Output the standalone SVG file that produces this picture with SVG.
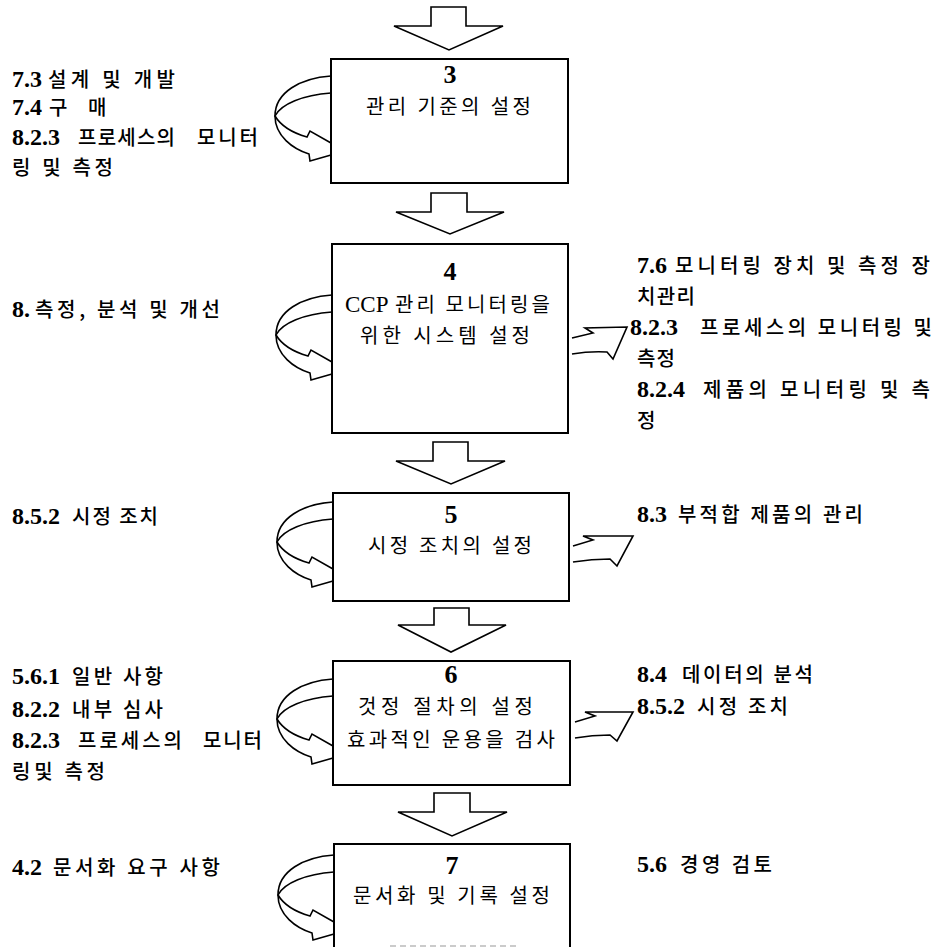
<svg xmlns="http://www.w3.org/2000/svg" width="937" height="949" viewBox="0 0 937 949">
<style>
text { font-family: "Noto Sans CJK KR", sans-serif; fill: #000; }
.k { font-family: "Noto Sans CJK KR", sans-serif; font-size: 20px; font-weight: 500; }
.kb { font-family: "Noto Sans CJK KR", sans-serif; font-size: 20px; font-weight: 400; }
.n { font-family: "Liberation Serif", serif; font-weight: bold; font-size: 24px; }
.bn { font-family: "Liberation Serif", serif; font-weight: bold; font-size: 26px; text-anchor: middle; }
.lat { font-family: "Liberation Serif", serif; font-size: 23px; }
.box { fill: #fff; stroke: #000; stroke-width: 2; }
.line { fill: none; stroke: #000; stroke-width: 1.6; stroke-linejoin: miter; }
.blk { fill: #fff; stroke: #000; stroke-width: 1.6; }
</style>
<rect width="937" height="949" fill="#fff"/>

<g id="connectors">
  <path class="blk" d="M431,7 L466,7 L466,26 L503,26 L449,50 L394,26 L431,26 Z"/>
  <path class="blk" d="M431,193 L467,193 L467,212 L504,212 L450,234 L396,212 L431,212 Z"/>
  <path class="blk" d="M433,442 L468,442 L468,461 L505,461 L451,484 L396,461 L433,461 Z"/>
  <path class="blk" d="M434,608 L469,608 L469,625 L506,625 L451,652 L398,625 L434,625 Z"/>
  <path class="blk" d="M434,793 L470,793 L470,812 L507,812 L452,836 L398,812 L434,812 Z"/>

  <path class="line" d="M331,76 C301,78 275,92 275,116 C275,136 293,149 309,154 L310,161 L331,155"/>
  <path class="line" d="M331,93 C303,95 281,104 275,116 C281,126 293,133 307,137 L310,131 L331,143"/>

  <path class="line" d="M332,295 C302,297 276,311 276,335 C276,355 294,368 310,373 L311,380 L332,374"/>
  <path class="line" d="M332,312 C304,314 282,323 276,335 C282,345 294,352 308,356 L311,350 L332,362"/>

  <path class="line" d="M333,502 C303,504 277,518 277,542 C277,562 295,575 311,580 L312,587 L333,581"/>
  <path class="line" d="M333,519 C305,521 283,530 277,542 C283,552 295,559 309,563 L312,557 L333,569"/>

  <path class="line" d="M333,679 C303,681 277,695 277,719 C277,739 295,752 311,757 L312,764 L333,758"/>
  <path class="line" d="M333,696 C305,698 283,707 277,719 C283,729 295,736 309,740 L312,734 L333,746"/>

  <path class="line" d="M334,855 C304,857 278,871 278,895 C278,915 296,928 312,933 L313,940 L334,934"/>
  <path class="line" d="M334,872 C306,874 284,883 278,895 C284,905 296,912 310,916 L313,910 L334,922"/>

  <path class="line" d="M572,338 L593,333 L585,328 L627,327 L613,359 L607,352 Q590,351 572,354"/>
  <path class="line" d="M573,546 L593,540 L583,536 L633,536 L617,566 L610,559 Q592,559 573,562"/>
  <path class="line" d="M575,722 L595,716 L585,712 L633,712 L617,741 L610,735 Q592,735 575,738"/>
</g>

<g id="node3">
  <rect class="box" x="331" y="59" width="237" height="124"/>
  <text class="bn" x="450" y="83">3</text>
  <text class="kb" x="366" y="114" textLength="165" lengthAdjust="spacing">관리 기준의 설정</text>
</g>
<g id="node4">
  <rect class="box" x="332" y="244" width="236" height="189"/>
  <text class="bn" x="450" y="280">4</text>
  <text y="312"><tspan class="lat" x="345">CCP</tspan> <tspan class="kb" x="395" textLength="155" lengthAdjust="spacing">관리 모니터링을</tspan></text>
  <text class="kb" x="360" y="343" textLength="170" lengthAdjust="spacing">위한 시스템 설정</text>
</g>
<g id="node5">
  <rect class="box" x="333" y="493" width="236" height="108"/>
  <text class="bn" x="451" y="523">5</text>
  <text class="kb" x="368" y="553" textLength="164" lengthAdjust="spacing">시정 조치의 설정</text>
</g>
<g id="node6">
  <rect class="box" x="333" y="661" width="237" height="124"/>
  <text class="bn" x="451" y="683">6</text>
  <text class="kb" x="358" y="714" textLength="175" lengthAdjust="spacing">것정 절차의 설정</text>
  <text class="kb" x="347" y="747" textLength="208" lengthAdjust="spacing">효과적인 운용을 검사</text>
</g>
<g id="node7">
  <path class="box" d="M334,947 L334,844 L570,844 L570,947"/>
  <path d="M390,946 L520,946" stroke="#bbb" stroke-width="1.5" stroke-dasharray="6 4"/>
  <text class="bn" x="452" y="874">7</text>
  <text class="kb" x="353" y="903" textLength="197" lengthAdjust="spacing">문서화 및 기록 설정</text>
</g>

<g id="labels-left">
  <text y="87"><tspan class="n" x="12">7.3</tspan> <tspan class="k" x="48" textLength="127" lengthAdjust="spacing">설계 및 개발</tspan></text>
  <text y="115"><tspan class="n" x="12">7.4</tspan> <tspan class="k" x="49">구</tspan> <tspan class="k" x="88">매</tspan></text>
  <text y="145"><tspan class="n" x="12">8.2.3</tspan> <tspan class="k" x="78" textLength="97" lengthAdjust="spacing">프로세스의</tspan> <tspan class="k" x="197" textLength="61" lengthAdjust="spacing">모니터</tspan></text>
  <text class="k" x="12" y="175" textLength="101" lengthAdjust="spacing">링 및 측정</text>

  <text y="317"><tspan class="n" x="12">8.</tspan> <tspan class="k" x="35" textLength="185" lengthAdjust="spacing">측정, 분석 및 개선</tspan></text>

  <text y="524"><tspan class="n" x="12">8.5.2</tspan> <tspan class="k" x="72" textLength="86" lengthAdjust="spacing">시정 조치</tspan></text>

  <text y="684"><tspan class="n" x="12">5.6.1</tspan> <tspan class="k" x="72" textLength="91" lengthAdjust="spacing">일반 사항</tspan></text>
  <text y="717"><tspan class="n" x="12">8.2.2</tspan> <tspan class="k" x="72" textLength="91" lengthAdjust="spacing">내부 심사</tspan></text>
  <text y="748"><tspan class="n" x="12">8.2.3</tspan> <tspan class="k" x="78" textLength="104" lengthAdjust="spacing">프로세스의</tspan> <tspan class="k" x="203" textLength="59" lengthAdjust="spacing">모니터</tspan></text>
  <text class="k" x="12" y="779" textLength="93" lengthAdjust="spacing">링및 측정</text>

  <text y="875"><tspan class="n" x="12">4.2</tspan> <tspan class="k" x="53" textLength="167" lengthAdjust="spacing">문서화 요구 사항</tspan></text>
</g>

<g id="labels-right">
  <text y="273"><tspan class="n" x="637">7.6</tspan> <tspan class="k" x="675" textLength="255" lengthAdjust="spacing">모니터링 장치 및 측정 장</tspan></text>
  <text class="k" x="637" y="304" textLength="58" lengthAdjust="spacing">치관리</text>
  <text y="335"><tspan class="n" x="630">8.2.3</tspan> <tspan class="k" x="700" textLength="232" lengthAdjust="spacing">프로세스의 모니터링 및</tspan></text>
  <text class="k" x="637" y="366" textLength="38" lengthAdjust="spacing">측정</text>
  <text y="397"><tspan class="n" x="637">8.2.4</tspan> <tspan class="k" x="703" textLength="227" lengthAdjust="spacing">제품의 모니터링 및 측</tspan></text>
  <text class="k" x="637" y="428">정</text>

  <text y="522"><tspan class="n" x="637">8.3</tspan> <tspan class="k" x="678" textLength="185" lengthAdjust="spacing">부적합 제품의 관리</tspan></text>

  <text y="682"><tspan class="n" x="637">8.4</tspan> <tspan class="k" x="682" textLength="131" lengthAdjust="spacing">데이터의 분석</tspan></text>
  <text y="714"><tspan class="n" x="637">8.5.2</tspan> <tspan class="k" x="697" textLength="91" lengthAdjust="spacing">시정 조치</tspan></text>

  <text y="872"><tspan class="n" x="637">5.6</tspan> <tspan class="k" x="680" textLength="92" lengthAdjust="spacing">경영 검토</tspan></text>
</g>
</svg>
